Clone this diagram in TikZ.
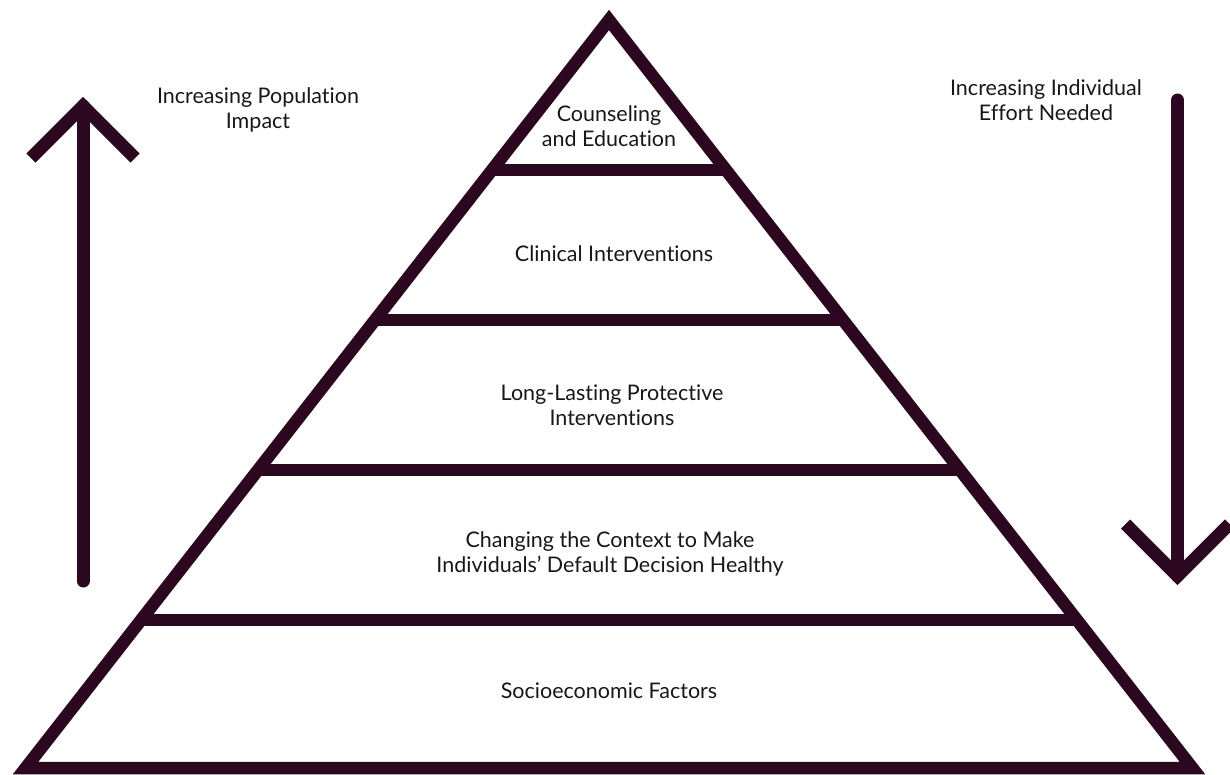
\documentclass[tikz,border=0pt]{standalone}
\usepackage{fontspec}
\setmainfont{Lato}[Ligatures=NoCommon]
\definecolor{plum}{RGB}{43,8,32}
\definecolor{ink}{RGB}{26,22,24}
\begin{document}
\begin{tikzpicture}[x=1pt,y=-1pt,
  frame/.style={draw=plum,line width=12.5pt,line join=miter},
  tier/.style={draw=plum,line width=12.5pt,line cap=butt},
  shaft/.style={draw=plum,line width=13pt,line cap=round},
  chevron/.style={draw=plum,line width=13pt,line cap=butt,line join=miter},
  label/.style={text=ink,font=\fontsize{21.5}{25.5}\selectfont,align=center,inner sep=0pt}]
\useasboundingbox (0,0) rectangle (1230,774);

% pyramid outline
\coordinate (apex) at (609,20);
\coordinate (bl) at (25.6,768);
\coordinate (br) at (1192.4,768);
\draw[frame] (bl) -- (apex) -- (br) -- cycle;

% tier dividers (ends on the sloping sides)
\coordinate (t1l) at (492,170);  \coordinate (t1r) at (726,170);
\coordinate (t2l) at (375,320);  \coordinate (t2r) at (843,320);
\coordinate (t3l) at (258,470);  \coordinate (t3r) at (960,470);
\coordinate (t4l) at (141,620);  \coordinate (t4r) at (1077,620);
\draw[tier] (t1l) -- (t1r);
\draw[tier] (t2l) -- (t2r);
\draw[tier] (t3l) -- (t3r);
\draw[tier] (t4l) -- (t4r);

% tier labels
\node[label] (counsel) at (609,126) {Counseling\\and Education};
\node[label] (clinic) at (614,254) {Clinical Interventions};
\node[label] (protect) at (612,405) {Long-Lasting Protective\\Interventions};
\node[label] (context) at (610,554) {Changing the Context to Make\\Individuals’ Default Decision Healthy};
\node[label] (socio) at (609,691) {Socioeconomic Factors};

% upward arrow on the left
\coordinate (upbot) at (83,581);
\coordinate (uptip) at (83,106);
\coordinate (upl) at (31,158);
\coordinate (upr) at (135,158);
\draw[shaft] (upbot) -- (uptip);
\draw[chevron] (upl) -- (uptip) -- (upr);
\node[label] (popimp) at (258,110) {Increasing Population\\Impact};

% downward arrow on the right
\coordinate (dntop) at (1177.5,100);
\coordinate (dntip) at (1177.5,576);
\coordinate (dnl) at (1125.5,524);
\coordinate (dnr) at (1229.5,524);
\draw[shaft] (dntop) -- (dntip);
\draw[chevron] (dnl) -- (dntip) -- (dnr);
\node[label] (effort) at (1046,100) {Increasing Individual\\Effort Needed};
\end{tikzpicture}
\end{document}
